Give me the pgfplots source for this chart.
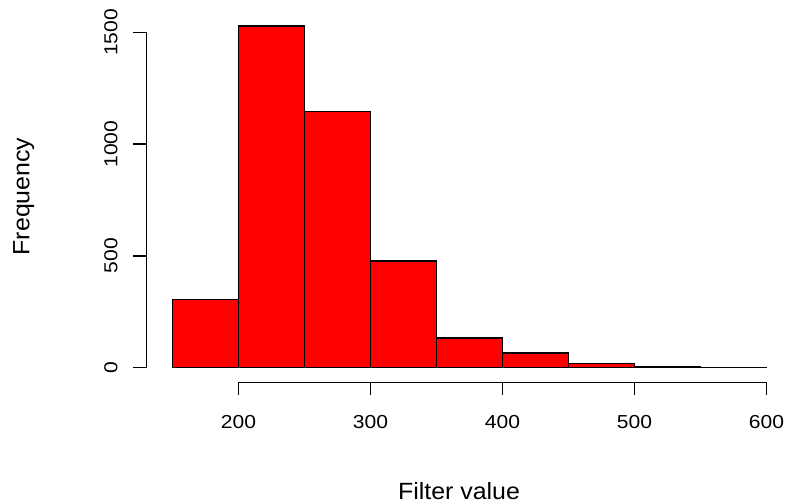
\documentclass[border=0pt]{standalone}
\usepackage{fontspec}
\setmainfont{Liberation Sans}
\newfontfamily\tickfont[FakeStretch=1.12]{Liberation Sans}
\newfontfamily\labfont[FakeStretch=1.06]{Liberation Sans}
\usepackage{pgfplots}
\pgfplotsset{compat=1.18}
\begin{document}
\begin{tikzpicture}[x=1pt,y=1pt]
\begin{axis}[
  at={(146pt,-382.3pt)}, anchor=south west,
  scale only axis, width=646.8pt, height=370.1pt,
  xmin=130, xmax=620, ymin=-66, ymax=1590,
  axis x line*=bottom, axis y line*=left,
  axis line style={draw=none},
  tick align=outside,
  major tick length=12.5pt,
  every tick/.style={black, line width=1.4pt},
  xtick={200,300,400,500,600},
  xticklabels={200,300,400,500,600},
  ytick={0,500,1000,1500},
  yticklabels={0,500,1000,1500},
  ticklabel style={font=\tickfont\fontsize{18.8}{20}\selectfont},
  xticklabel style={anchor=base},
  xticklabel shift=34pt,
  yticklabel style={rotate=90, anchor=base},
  yticklabel shift=16pt,
  xlabel={Filter value},
  ylabel={Frequency},
  label style={font=\labfont\fontsize{23.5}{26}\selectfont},
  xlabel style={at={(axis description cs:0.484,-0.3153)}, anchor=base},
  ylabel style={at={(axis description cs:-0.1804,0.502)}, anchor=base},
]
% histogram counts, bins of width 50 from 150 to 600
\addplot[ybar interval, fill=red, draw=black, line width=1.4pt] coordinates {
  (150,304) (200,1529) (250,1147) (300,477) (350,132)
  (400,65) (450,18) (500,2) (550,1) (600,1)
};
\draw[line width=1.4pt] (axis cs:200,-66) -- (axis cs:600,-66);
\draw[line width=1.4pt] (axis cs:130,0) -- (axis cs:130,1500);
\end{axis}
\pgfresetboundingbox
\useasboundingbox (0,0) rectangle (786,-503);
\end{tikzpicture}
\end{document}
